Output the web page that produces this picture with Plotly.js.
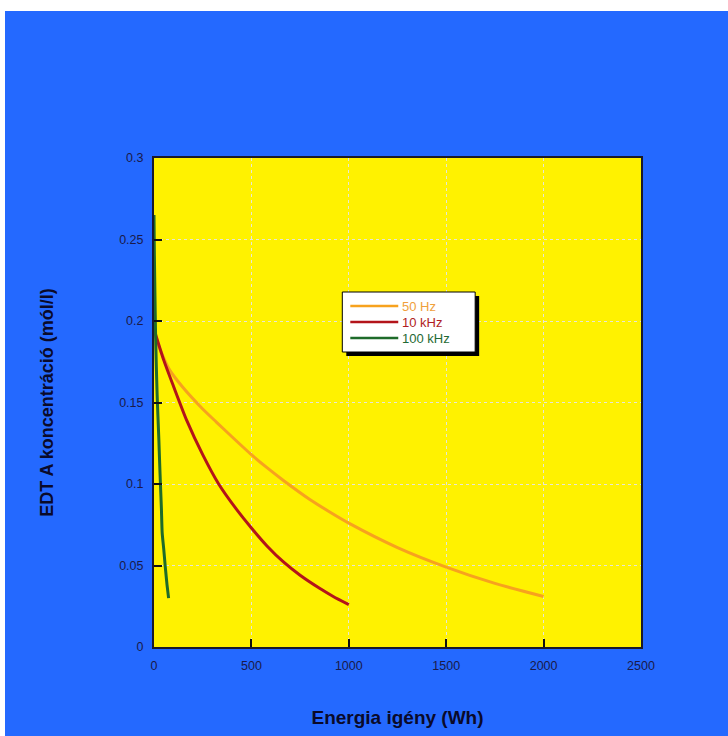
<!DOCTYPE html>
<html>
<head>
<meta charset="utf-8">
<script src="https://cdn.plot.ly/plotly-3.0.1.min.js"></script>
<style>
  html, body { margin: 0; padding: 0; background: #ffffff; width: 728px; height: 736px; overflow: hidden; }
  #chart { position: absolute; left: 5px; top: 11px; width: 723px; height: 725px; }
</style>
</head>
<body>
<div id="chart"></div>
<script>
// Data
const seriesNames = ["50 Hz", "10 kHz", "100 kHz"];
const hz50X = [0, 40, 80, 150, 250, 320, 400, 500, 580, 666, 800, 900, 1000, 1250, 1500, 1750, 2000];
const hz50Y = [0.193, 0.180, 0.170, 0.159, 0.146, 0.138, 0.129, 0.118, 0.110, 0.102, 0.0905, 0.083, 0.076, 0.061, 0.049, 0.039, 0.031];
const khz10X = [0, 50, 100, 168, 250, 332, 420, 500, 580, 666, 750, 850, 920, 1000];
const khz10Y = [0.195, 0.176, 0.160, 0.139, 0.118, 0.100, 0.085, 0.073, 0.062, 0.052, 0.044, 0.036, 0.031, 0.026];
const khz100X = [0, 1, 2, 5, 8, 12, 16, 20, 25, 29, 33, 38, 42, 50, 58, 67, 75];
const khz100Y = [0.265, 0.252, 0.240, 0.215, 0.192, 0.172, 0.155, 0.142, 0.127, 0.113, 0.100, 0.085, 0.070, 0.060, 0.049, 0.038, 0.030];
const xTicks = [0, 500, 1000, 1500, 2000, 2500];
const yTicks = [0, 0.05, 0.1, 0.15, 0.2, 0.25, 0.3];
const yTickText = ["0", "0.05", "0.1", "0.15", "0.2", "0.25", "0.3"];

const colors = ["#f7a21e", "#b3141a", "#1e6b2a"];
const textColors = ["#f0a03c", "#b01c22", "#1f6a34"];

const xs = [hz50X, khz10X, khz100X];
const ys = [hz50Y, khz10Y, khz100Y];

const traces = seriesNames.map((n, i) => ({
  type: 'scatter', mode: 'lines', name: n,
  x: xs[i], y: ys[i],
  line: { color: colors[i], width: 3, shape: 'spline', smoothing: 0.6 },
  hoverinfo: 'skip', showlegend: false
}));

// plot-area helpers (page px -> paper fractions) for the hand-drawn legend box
const PL = 153.5, PW = 487.5, PB = 647, PH = 489;
const px = v => (v - PL) / PW;
const py = v => (PB - v) / PH;

const shapes = [
  { type: 'rect', xref: 'paper', yref: 'paper', layer: 'above',
    x0: px(346), x1: px(479), y0: py(356), y1: py(296),
    fillcolor: '#000000', line: { width: 0 } },
  { type: 'rect', xref: 'paper', yref: 'paper', layer: 'above',
    x0: px(342), x1: px(475), y0: py(352), y1: py(292),
    fillcolor: '#ffffff', line: { width: 1, color: '#000000' } }
];
const rowY = [306, 322, 338];
const annotations = [];
seriesNames.forEach((n, i) => {
  shapes.push({ type: 'line', xref: 'paper', yref: 'paper', layer: 'above',
    x0: px(350), x1: px(398), y0: py(rowY[i]), y1: py(rowY[i]),
    line: { color: colors[i], width: 2.5 } });
  annotations.push({ xref: 'paper', yref: 'paper', x: px(401), y: py(rowY[i]),
    xanchor: 'left', yanchor: 'middle', showarrow: false, text: n,
    borderpad: 0,
    font: { family: 'Liberation Sans, Arial, sans-serif', size: 13, color: textColors[i] } });
});

const axisFont = { family: 'Liberation Sans, Arial, sans-serif', size: 12.5, color: '#1a1a4a' };

const layout = {
  width: 723, height: 725,
  margin: { l: 148.5, r: 87, t: 147, b: 89 },
  paper_bgcolor: '#2469ff',
  plot_bgcolor: '#fff200',
  showlegend: false,
  xaxis: {
    range: [0, 2500], tickvals: xTicks, ticktext: xTicks.map(String),
    ticks: 'inside', ticklen: 8, tickwidth: 2, tickcolor: '#111111',
    showline: true, linecolor: '#1a1a2a', linewidth: 2, mirror: true,
    showgrid: true, gridcolor: '#e6e6d8', griddash: 'dot', gridwidth: 1,
    zeroline: false, tickfont: axisFont, ticklabelstandoff: 6,
    title: { text: 'Energia igény (Wh)', standoff: 39,
      font: { family: 'Liberation Sans, Arial, sans-serif', size: 19, color: '#0a0a2a', weight: 'bold' } }
  },
  yaxis: {
    range: [0, 0.3], tickvals: yTicks, ticktext: yTickText,
    ticks: 'inside', ticklen: 8, tickwidth: 2, tickcolor: '#111111',
    showline: true, linecolor: '#1a1a2a', linewidth: 2, mirror: true,
    showgrid: true, gridcolor: '#e6e6d8', griddash: 'dot', gridwidth: 1,
    zeroline: false, tickfont: axisFont, ticklabelstandoff: 6,
    title: { text: 'EDT A koncentráció (mól/l)', standoff: 61,
      font: { family: 'Liberation Sans, Arial, sans-serif', size: 18, color: '#0a0a2a', weight: 'bold' } }
  },
  shapes: shapes,
  annotations: annotations
};

Plotly.newPlot('chart', traces, layout, { staticPlot: true, displayModeBar: false });
</script>
</body>
</html>
